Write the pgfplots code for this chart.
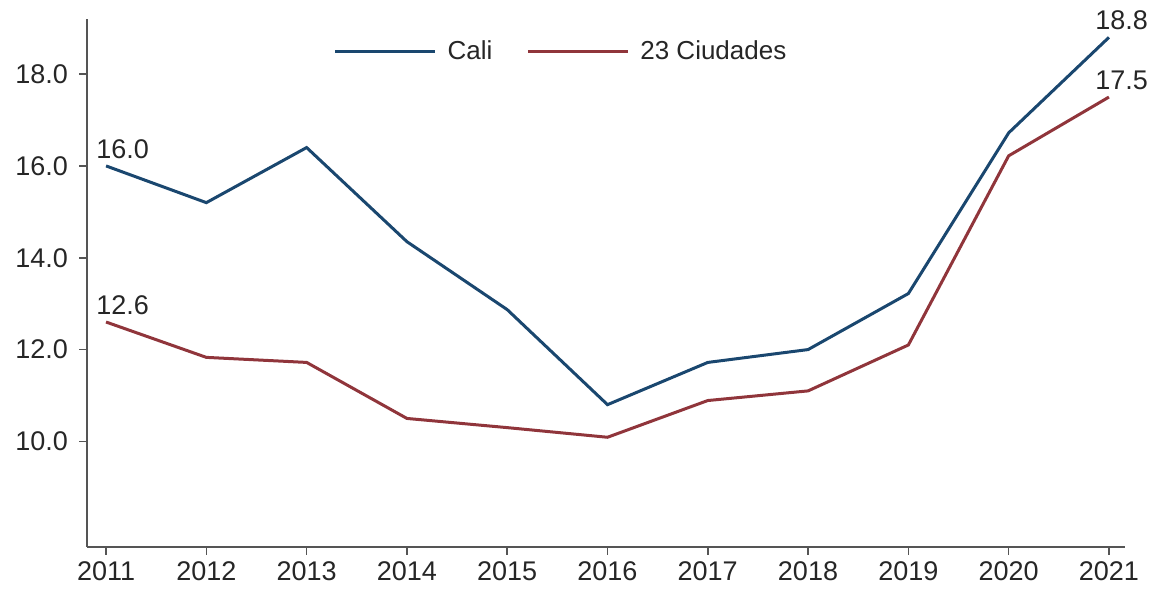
\documentclass[border=0pt]{standalone}
\usepackage{pgfplots}
\pgfplotsset{compat=1.18}
\usepackage{fontspec}
\setmainfont{Liberation Sans}
\definecolor{cali}{HTML}{1A476F}
\definecolor{ciud}{HTML}{90353B}
\definecolor{axgray}{HTML}{555555}
\begin{document}
\begin{tikzpicture}[font=\fontsize{13.5}{15}\selectfont]
\useasboundingbox (0,0) rectangle (576pt,297pt);
\begin{axis}[
  at={(43.5pt,23.5pt)}, anchor=south west,
  scale only axis, width=519pt, height=264pt,
  xmin=2010.81, xmax=2021.16,
  ymin=7.7, ymax=19.2,
  axis lines=left,
  axis line style={axgray, line width=0.8pt, -},
  xtick={2011,...,2021},
  ytick={10,12,14,16,18},
  tick style={axgray, line width=0.8pt},
  tick align=outside,
  major tick length=4pt,
  xticklabel style={/pgf/number format/1000 sep={}, text=black!85},
  yticklabel style={/pgf/number format/fixed, /pgf/number format/fixed zerofill, /pgf/number format/precision=1, text=black!85, xshift=-2pt},
  /pgf/number format/assume math mode=true,
  legend style={draw=none, fill=none, at={(0.4576,0.9375)}, anchor=center,
    legend columns=2, /tikz/every even column/.append style={column sep=15pt},
    font=\fontsize{13}{15}\selectfont, text=black!85},
  legend image code/.code={\draw[#1] (0pt,0pt) -- (50pt,0pt); \path (53.5pt,0pt);},
  clip=false,
]
\addplot[cali, line width=1.5pt] coordinates {
(2011,16.0) (2012,15.2) (2013,16.4) (2014,14.35) (2015,12.87) (2016,10.8)
(2017,11.72) (2018,12.0) (2019,13.22) (2020,16.72) (2021,18.8)};
\addlegendentry{Cali}
\addplot[ciud, line width=1.5pt] coordinates {
(2011,12.6) (2012,11.83) (2013,11.72) (2014,10.5) (2015,10.3) (2016,10.09)
(2017,10.89) (2018,11.1) (2019,12.1) (2020,16.22) (2021,17.5)};
\addlegendentry{23 Ciudades}
\node[anchor=south west, inner sep=0pt, xshift=-5pt, yshift=3.5pt, text=black!85] at (axis cs:2011,16.0) {16.0};
\node[anchor=south west, inner sep=0pt, xshift=-5pt, yshift=3.5pt, text=black!85] at (axis cs:2011,12.6) {12.6};
\node[anchor=south west, inner sep=0pt, xshift=-7pt, yshift=3.5pt, text=black!85] at (axis cs:2021,18.8) {18.8};
\node[anchor=south west, inner sep=0pt, xshift=-7pt, yshift=3.5pt, text=black!85] at (axis cs:2021,17.5) {17.5};
\end{axis}
\end{tikzpicture}
\end{document}
